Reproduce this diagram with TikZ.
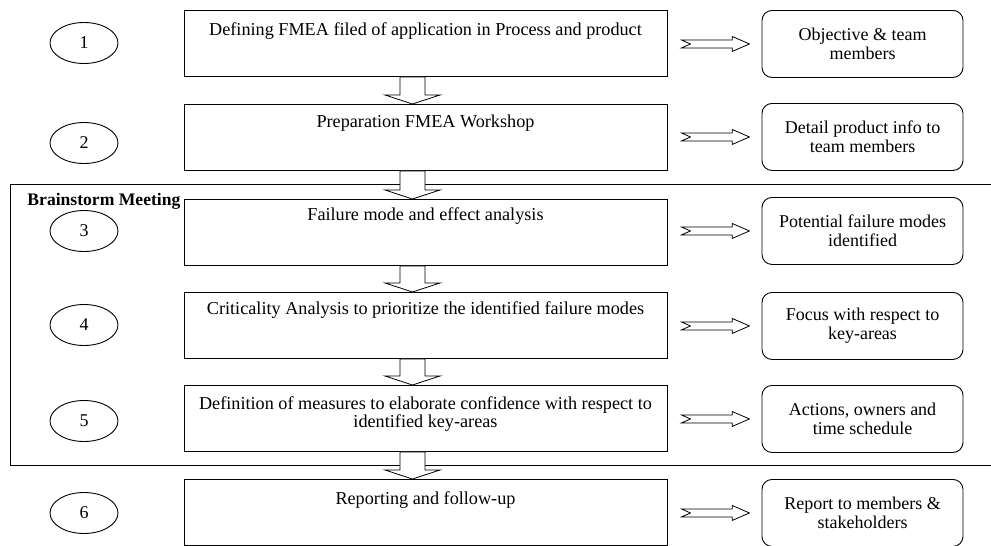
\documentclass[tikz,border=0pt]{standalone}
\usepackage{fontspec}
\setmainfont{Liberation Serif}
\usetikzlibrary{shapes.geometric,calc}
\begin{document}
\begin{tikzpicture}[x=1pt,y=-1pt,
  line width=0.9pt,
  mainbox/.style={draw, rectangle, minimum width=483pt, minimum height=66pt, anchor=north, inner sep=0pt},
  maintext/.style={anchor=north, inner sep=0pt, align=center, font=\fontsize{18.2}{16.5}\selectfont},
  sidebox/.style={draw, rectangle, rounded corners=10pt, minimum width=201pt, minimum height=67pt, anchor=north, inner sep=0pt, align=center, font=\fontsize{18}{19}\selectfont},
  stepnum/.style={draw, ellipse, minimum width=68pt, minimum height=41pt, inner sep=0pt, font=\fontsize{18}{20}\selectfont},
  downarrow/.style={draw, fill=white, line width=0.8pt},
  sidearrow/.style={draw, fill=white, line width=0.8pt},
  frametitle/.style={inner sep=0pt, font=\fontsize{17.6}{20}\selectfont\bfseries}
]
\useasboundingbox (0,0) rectangle (991,546);

% Brainstorm meeting frame (open to the right)
\draw (991,184) -- (10,184) -- (10,465) -- (991,465);
\node[frametitle, anchor=base west] (bm) at (27,205) {Brainstorm Meeting};

% Main process steps
\node[mainbox] (m1) at (425.5,10)  {};
\node[mainbox] (m2) at (425.5,104) {};
\node[mainbox] (m3) at (425.5,199) {};
\node[mainbox] (m4) at (425.5,292) {};
\node[mainbox] (m5) at (425.5,385) {};
\node[mainbox] (m6) at (425.5,479) {};

\node[maintext] (t1) at ([yshift=-12.2pt]m1.north) {Defining FMEA filed of application in Process and product};
\node[maintext] (t2) at ([yshift=-10.5pt]m2.north) {Preparation FMEA Workshop};
\node[maintext] (t3) at ([yshift=-8.5pt]m3.north) {Failure mode and effect analysis};
\node[maintext] (t4) at ([yshift=-9.2pt]m4.north) {Criticality Analysis to prioritize the identified failure modes};
\node[maintext] (t5) at ([yshift=-11.2pt]m5.north) {Definition of measures to elaborate confidence with respect to\\identified key-areas};
\node[maintext] (t6) at ([yshift=-12.2pt]m6.north) {Reporting and follow-up};

% Step numbers
\node[stepnum] (n1) at (84,43)  {1};
\node[stepnum] (n2) at (84,143) {2};
\node[stepnum] (n3) at (84,231) {3};
\node[stepnum] (n4) at (84,325) {4};
\node[stepnum] (n5) at (84,421) {5};
\node[stepnum] (n6) at (84,513) {6};

% Outcomes
\node[sidebox] (r1) at (862.5,10)  {Objective \& team\\members};
\node[sidebox] (r2) at (862.5,103) {Detail product info to\\team members};
\node[sidebox] (r3) at (862.5,197) {Potential failure modes\\identified};
\node[sidebox] (r4) at (862.5,292) {Focus with respect to\\key-areas};
\node[sidebox] (r5) at (862.5,385) {Actions, owners and\\time schedule};
\node[sidebox] (r6) at (862.5,479) {Report to members \&\\stakeholders};

% Block arrows between consecutive steps
\foreach \a/\b in {m1/m2, m2/m3, m3/m4, m4/m5, m5/m6}{
  \coordinate (s) at ($(\a.south)+(-13,0)$);
  \coordinate (e) at ($(\b.north)+(-13,0)$);
  \draw[downarrow] ([xshift=-12.5pt]s) -- ([xshift=-12.5pt,yshift=9pt]e)
    -- ([xshift=-27.5pt,yshift=9pt]e) -- (e) -- ([xshift=27.5pt,yshift=9pt]e)
    -- ([xshift=12.5pt,yshift=9pt]e) -- ([xshift=12.5pt]s) -- cycle;
}

% Notched block arrows from each step to its outcome
\foreach \a/\b in {m1/r1, m2/r2, m3/r3, m4/r4, m5/r5, m6/r6}{
  \coordinate (p) at (\a.east |- \b.west);
  \draw[sidearrow] ([xshift=14pt,yshift=4pt]p) -- ([xshift=64.7pt,yshift=4pt]p)
    -- ([xshift=64.7pt,yshift=7.5pt]p) -- ([xshift=82pt]p)
    -- ([xshift=64.7pt,yshift=-7.5pt]p) -- ([xshift=64.7pt,yshift=-4pt]p)
    -- ([xshift=14pt,yshift=-4pt]p) -- ([xshift=23pt]p) -- cycle;
}
\end{tikzpicture}
\end{document}
